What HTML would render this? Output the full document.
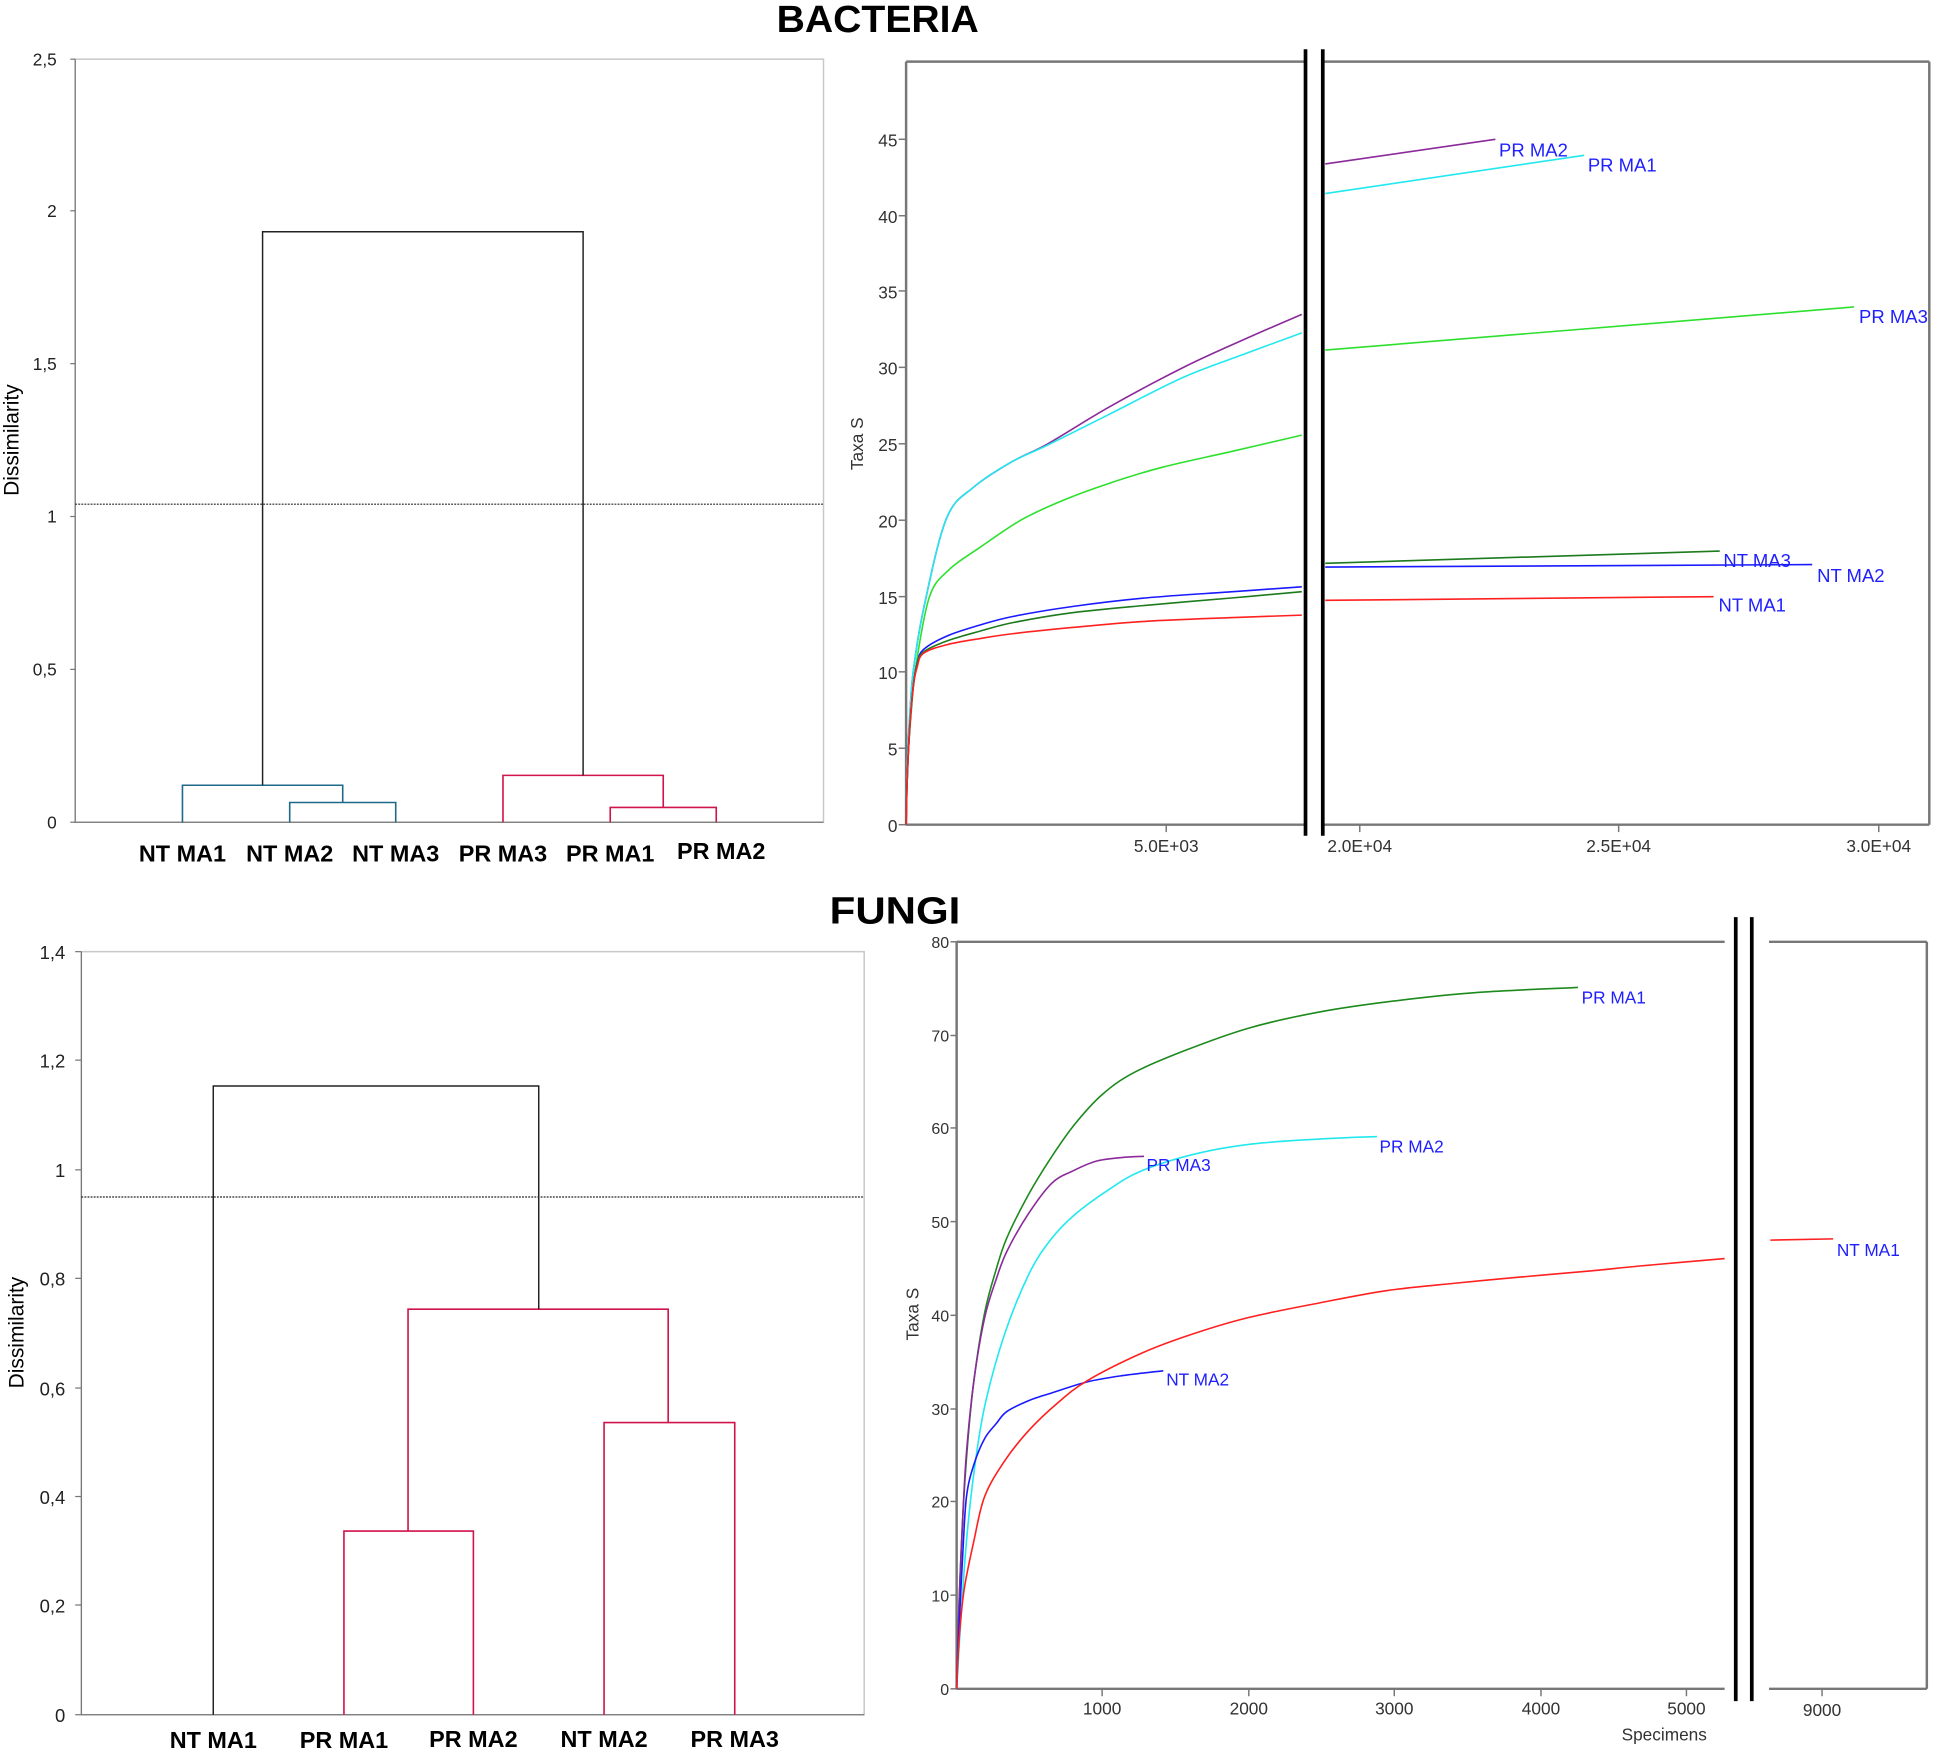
<!DOCTYPE html>
<html><head><meta charset="utf-8"><style>
html,body{margin:0;padding:0;background:#fff}
svg{display:block}
text{font-family:"Liberation Sans",sans-serif}
</style></head><body>
<svg id="s" width="1933" height="1748" viewBox="0 0 1568 1418" preserveAspectRatio="none" xmlns="http://www.w3.org/2000/svg">
<rect width="1568" height="1418" fill="#fff"/>
<text x="712" y="26" font-size="31" font-weight="bold" text-anchor="middle" textLength="164" lengthAdjust="spacingAndGlyphs">BACTERIA</text>
<text x="726" y="749" font-size="31" font-weight="bold" text-anchor="middle" textLength="106" lengthAdjust="spacingAndGlyphs">FUNGI</text>

<rect x="61" y="48" width="607" height="619" fill="none" stroke="#c8c8c8" stroke-width="1.2"/>
<line x1="61" y1="48" x2="61" y2="667" stroke="#777" stroke-width="1"/>
<line x1="61" y1="667" x2="668" y2="667" stroke="#777" stroke-width="1"/>
<g stroke="#777" stroke-width="1">
<line x1="57" y1="48" x2="61" y2="48"/><line x1="57" y1="171" x2="61" y2="171"/><line x1="57" y1="295" x2="61" y2="295"/>
<line x1="57" y1="419" x2="61" y2="419"/><line x1="57" y1="543" x2="61" y2="543"/><line x1="57" y1="667" x2="61" y2="667"/>
</g>
<g font-size="14" text-anchor="end" fill="#222">
<text x="46" y="53">2,5</text><text x="46" y="176">2</text><text x="46" y="300">1,5</text>
<text x="46" y="424">1</text><text x="46" y="548">0,5</text><text x="46" y="672">0</text>
</g>
<text transform="translate(15,357) rotate(-90)" font-size="17" text-anchor="middle">Dissimilarity</text>
<line x1="61" y1="409" x2="668" y2="409" stroke="#222" stroke-width="1" stroke-dasharray="1.5,1"/>
<g fill="none" stroke="#1f6a8a" stroke-width="1.3">
<polyline points="235,667 235,651 321,651 321,667"/>
<polyline points="148,667 148,637 278,637 278,651"/>
</g>
<g fill="none" stroke="#d0134a" stroke-width="1.3">
<polyline points="495,667 495,655 581,655 581,667"/>
<polyline points="408,667 408,629 538,629 538,655"/>
</g>
<polyline points="213,637 213,188 473,188 473,629" fill="none" stroke="#222" stroke-width="1.2"/>
<g font-size="19" font-weight="bold" text-anchor="middle">
<text x="148" y="699">NT MA1</text><text x="235" y="699">NT MA2</text><text x="321" y="699">NT MA3</text>
<text x="408" y="699">PR MA3</text><text x="495" y="699">PR MA1</text><text x="585" y="697">PR MA2</text>
</g>

<g stroke="#777" stroke-width="2" fill="none">
<line x1="735" y1="50" x2="1058" y2="50"/><line x1="1073" y1="50" x2="1565" y2="50"/>
<line x1="735" y1="669" x2="1058" y2="669"/><line x1="1073" y1="669" x2="1565" y2="669"/>
<line x1="735" y1="50" x2="735" y2="669"/><line x1="1565" y1="50" x2="1565" y2="669"/>
</g>
<g stroke="#777" stroke-width="1.2">
<line x1="729" y1="669" x2="735" y2="669"/><line x1="729" y1="607" x2="735" y2="607"/><line x1="729" y1="545" x2="735" y2="545"/>
<line x1="729" y1="484" x2="735" y2="484"/><line x1="729" y1="422" x2="735" y2="422"/><line x1="729" y1="360" x2="735" y2="360"/>
<line x1="729" y1="298" x2="735" y2="298"/><line x1="729" y1="236" x2="735" y2="236"/><line x1="729" y1="175" x2="735" y2="175"/>
<line x1="729" y1="113" x2="735" y2="113"/>
<line x1="946" y1="669" x2="946" y2="675"/><line x1="1103" y1="669" x2="1103" y2="675"/>
<line x1="1313" y1="669" x2="1313" y2="675"/><line x1="1524" y1="669" x2="1524" y2="675"/>
</g>
<g font-size="14" text-anchor="end" fill="#333">
<text x="728" y="675">0</text><text x="728" y="613">5</text><text x="728" y="551">10</text><text x="728" y="490">15</text>
<text x="728" y="428">20</text><text x="728" y="366">25</text><text x="728" y="304">30</text><text x="728" y="242">35</text>
<text x="728" y="181">40</text><text x="728" y="119">45</text>
</g>
<g font-size="14" text-anchor="middle" fill="#333">
<text x="946" y="691">5.0E+03</text><text x="1103" y="691">2.0E+04</text><text x="1313" y="691">2.5E+04</text><text x="1524" y="691">3.0E+04</text>
</g>
<text transform="translate(700,360) rotate(-90)" font-size="14" text-anchor="middle" fill="#333">Taxa S</text>
<line x1="1059" y1="40" x2="1059" y2="678" stroke="#000" stroke-width="3"/>
<line x1="1073" y1="40" x2="1073" y2="678" stroke="#000" stroke-width="3"/>
<g fill="none" stroke-width="1.3" stroke-linejoin="round">
<polyline class="sm" stroke="#8b2a9a" points="735,669 736,620 738,580 741,543 750,490 768,420 790,395 820,375 850,360 900,330 960,298 1010,275 1056,255"/>
<polyline class="sm" stroke="#22e8f0" points="735,669 736,620 738,580 741,543 750,490 768,420 790,395 820,375 850,361 900,336 960,306 1010,287 1056,270"/>
<polyline class="sm" stroke="#2ee02e" points="735,669 736,625 739,580 743,540 754,484 770,462 795,444 828,422 862,406 900,392 943,379 1000,366 1056,353"/>
<polyline class="sm" stroke="#1a1aff" points="735,669 736,630 738,590 741,555 744,538 749,527 768,516 795,507 822,500 870,492 930,485 1000,480 1056,476"/>
<polyline class="sm" stroke="#1d7a1d" points="735,669 736,630 738,590 741,555 744,539 749,529 768,520 795,512 822,505 870,497 930,491 1000,485 1056,480"/>
<polyline class="sm" stroke="#ff2020" points="735,669 736,630 738,590 741,556 744,541 749,530 768,523 795,518 822,514 870,509 930,504 1000,501 1056,499"/>
<line stroke="#8b2a9a" x1="1075" y1="133" x2="1213" y2="113"/>
<line stroke="#22e8f0" x1="1075" y1="157" x2="1285" y2="126"/>
<line stroke="#2ee02e" x1="1075" y1="284" x2="1504" y2="249"/>
<line stroke="#1d7a1d" x1="1075" y1="457" x2="1395" y2="447"/>
<line stroke="#1a1aff" x1="1075" y1="460" x2="1470" y2="458"/>
<line stroke="#ff2020" x1="1075" y1="487" x2="1390" y2="484"/>
</g>
<g font-size="15" fill="#2020ff">
<text x="1216" y="127">PR MA2</text><text x="1288" y="139">PR MA1</text><text x="1508" y="262">PR MA3</text>
<text x="1398" y="460">NT MA3</text><text x="1474" y="472">NT MA2</text><text x="1394" y="496">NT MA1</text>
</g>

<rect x="66" y="772" width="635" height="619" fill="none" stroke="#c8c8c8" stroke-width="1.2"/>
<line x1="66" y1="772" x2="66" y2="1391" stroke="#777"/>
<line x1="66" y1="1391" x2="701" y2="1391" stroke="#777"/>
<g stroke="#777">
<line x1="61" y1="772" x2="66" y2="772"/><line x1="61" y1="860" x2="66" y2="860"/><line x1="61" y1="949" x2="66" y2="949"/>
<line x1="61" y1="1037" x2="66" y2="1037"/><line x1="61" y1="1126" x2="66" y2="1126"/><line x1="61" y1="1214" x2="66" y2="1214"/>
<line x1="61" y1="1302" x2="66" y2="1302"/><line x1="61" y1="1391" x2="66" y2="1391"/>
</g>
<g font-size="15" text-anchor="end" fill="#222">
<text x="53" y="778">1,4</text><text x="53" y="866">1,2</text><text x="53" y="955">1</text><text x="53" y="1043">0,8</text>
<text x="53" y="1132">0,6</text><text x="53" y="1220">0,4</text><text x="53" y="1308">0,2</text><text x="53" y="1397">0</text>
</g>
<text transform="translate(19,1081) rotate(-90)" font-size="17" text-anchor="middle">Dissimilarity</text>
<line x1="66" y1="971" x2="701" y2="971" stroke="#222" stroke-width="1" stroke-dasharray="1.5,1"/>
<g fill="none" stroke="#d0134a" stroke-width="1.3">
<polyline points="279,1391 279,1242 384,1242 384,1391"/>
<polyline points="490,1391 490,1154 596,1154 596,1391"/>
<polyline points="331,1242 331,1062 542,1062 542,1154"/>
</g>
<polyline points="173,1391 173,881 437,881 437,1062" fill="none" stroke="#222" stroke-width="1.2"/>
<g font-size="19" font-weight="bold" text-anchor="middle">
<text x="173" y="1418">NT MA1</text><text x="279" y="1418">PR MA1</text><text x="384" y="1417">PR MA2</text>
<text x="490" y="1417">NT MA2</text><text x="596" y="1417">PR MA3</text>
</g>

<g stroke="#777" stroke-width="2" fill="none">
<line x1="776" y1="764" x2="1399" y2="764"/><line x1="1435" y1="764" x2="1563" y2="764"/>
<line x1="776" y1="1370" x2="1399" y2="1370"/><line x1="1435" y1="1370" x2="1563" y2="1370"/>
<line x1="776" y1="764" x2="776" y2="1370"/><line x1="1563" y1="764" x2="1563" y2="1370"/>
</g>
<g stroke="#777" stroke-width="1.2">
<line x1="771" y1="1370" x2="776" y2="1370"/><line x1="771" y1="1294" x2="776" y2="1294"/><line x1="771" y1="1218" x2="776" y2="1218"/>
<line x1="771" y1="1143" x2="776" y2="1143"/><line x1="771" y1="1067" x2="776" y2="1067"/><line x1="771" y1="991" x2="776" y2="991"/>
<line x1="771" y1="915" x2="776" y2="915"/><line x1="771" y1="840" x2="776" y2="840"/><line x1="771" y1="764" x2="776" y2="764"/>
<line x1="894" y1="1370" x2="894" y2="1376"/><line x1="1013" y1="1370" x2="1013" y2="1376"/><line x1="1131" y1="1370" x2="1131" y2="1376"/>
<line x1="1250" y1="1370" x2="1250" y2="1376"/><line x1="1368" y1="1370" x2="1368" y2="1376"/><line x1="1478" y1="1370" x2="1478" y2="1376"/>
</g>
<g font-size="13" text-anchor="end" fill="#333">
<text x="770" y="1375">0</text><text x="770" y="1299">10</text><text x="770" y="1223">20</text><text x="770" y="1148">30</text>
<text x="770" y="1072">40</text><text x="770" y="996">50</text><text x="770" y="920">60</text><text x="770" y="845">70</text><text x="770" y="769">80</text>
</g>
<g font-size="14" text-anchor="middle" fill="#333">
<text x="894" y="1391">1000</text><text x="1013" y="1391">2000</text><text x="1131" y="1391">3000</text>
<text x="1250" y="1391">4000</text><text x="1368" y="1391">5000</text><text x="1478" y="1392">9000</text>
<text x="1350" y="1412">Specimens</text>
</g>
<text transform="translate(745,1066) rotate(-90)" font-size="14" text-anchor="middle" fill="#333">Taxa S</text>
<line x1="1408" y1="744" x2="1408" y2="1380" stroke="#000" stroke-width="3"/>
<line x1="1421" y1="744" x2="1421" y2="1380" stroke="#000" stroke-width="3"/>
<g fill="none" stroke-width="1.3" stroke-linejoin="round">
<polyline class="sm" stroke="#1d8a1d" points="776,1370 778,1300 781,1230 785,1170 790,1120 798.7,1065 808,1030 816.8,1004 834.9,968 852,940 871,913 894,888 920,870 961.7,852 1013,834 1070,821 1131,812 1200,805 1280,801"/>
<polyline class="sm" stroke="#8b2a9a" points="776,1370 778,1300 781,1230 784,1178 790,1120 798.7,1069 808,1038 816.8,1015 834,985 853,960 870,950 889,942 910,939 928,938"/>
<polyline class="sm" stroke="#22e8f0" points="776,1370 779,1320 784,1250 790,1195 798.7,1141 815,1082 834.9,1033 852,1006 871,986 898,966 925.5,950 970,936 1016,928 1070,924 1117,922"/>
<polyline class="sm" stroke="#1a1aff" points="776,1370 778,1320 781,1260 784,1214 790,1188 798.7,1167 808,1155 816.8,1145 835,1136 853,1130 882,1121 910,1116 943.6,1112"/>
<polyline class="sm" stroke="#ff2020" points="776,1370 778,1330 782,1290 790,1250 798.7,1214 815,1185 834.9,1160 858,1138 882,1120 925.5,1098 965,1083 1012,1069 1070,1057 1124.6,1047 1180,1041 1233,1036 1290,1031 1330,1027 1399,1021"/>
<line stroke="#ff2020" x1="1436" y1="1006" x2="1487" y2="1005"/>
</g>
<g font-size="14" fill="#2020ff">
<text x="1283" y="814">PR MA1</text><text x="1119" y="935">PR MA2</text><text x="930" y="950">PR MA3</text>
<text x="946" y="1124">NT MA2</text><text x="1490" y="1019">NT MA1</text>
</g>
</svg>
<script>
(function(){
var ns="http://www.w3.org/2000/svg";
var pls=document.querySelectorAll("polyline.sm");
for(var k=0;k<pls.length;k++){
 var pl=pls[k];
 var p=pl.getAttribute("points").trim().split(/\s+/).map(function(s){var a=s.split(",");return [+a[0],+a[1]];});
 var d="M"+p[0][0]+","+p[0][1];
 for(var i=0;i<p.length-1;i++){
  var p0=p[i>0?i-1:0],p1=p[i],p2=p[i+1],p3=p[i+2<p.length?i+2:i+1];
  var c1x=p1[0]+(p2[0]-p0[0])/6,c1y=p1[1]+(p2[1]-p0[1])/6;
  var c2x=p2[0]-(p3[0]-p1[0])/6,c2y=p2[1]-(p3[1]-p1[1])/6;
  d+=" C"+c1x.toFixed(2)+","+c1y.toFixed(2)+" "+c2x.toFixed(2)+","+c2y.toFixed(2)+" "+p2[0]+","+p2[1];
 }
 var path=document.createElementNS(ns,"path");
 path.setAttribute("d",d);
 path.setAttribute("stroke",pl.getAttribute("stroke"));
 path.setAttribute("fill","none");
 pl.parentNode.replaceChild(path,pl);
}
})();
</script>
</body></html>
